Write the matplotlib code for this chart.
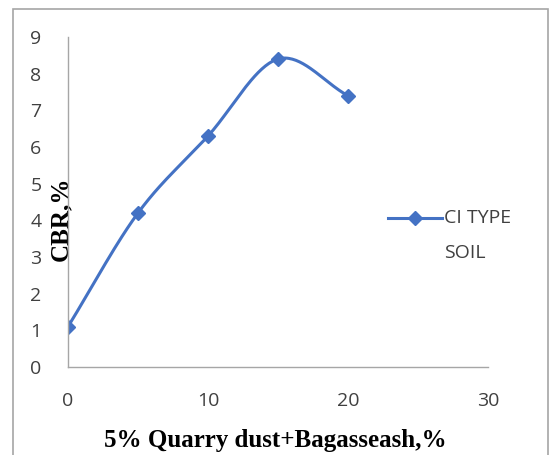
import numpy as np
import matplotlib.pyplot as plt
from matplotlib.lines import Line2D
from matplotlib.patches import Rectangle

# data
additive_pct = [0, 5, 10, 15, 20]
cbr_pct = [1.1, 4.2, 6.3, 8.4, 7.4]
x_ticks = [0, 10, 20, 30]
y_ticks = list(range(0, 10))
series_name = ['CI TYPE', 'SOIL']

blue = '#4472C4'
grey = '#A6A6A6'
txt = '#404040'


def smooth(xs, ys, n=40):
    # Excel style smoothed line (Catmull-Rom through the points)
    xs = np.asarray(xs, float)
    ys = np.asarray(ys, float)
    px = np.concatenate([[2 * xs[0] - xs[1]], xs, [2 * xs[-1] - xs[-2]]])
    py = np.concatenate([[2 * ys[0] - ys[1]], ys, [2 * ys[-1] - ys[-2]]])
    out_x, out_y = [], []
    t = np.linspace(0, 1, n)
    for i in range(1, len(px) - 2):
        for p, out in ((px, out_x), (py, out_y)):
            p0, p1, p2, p3 = p[i - 1], p[i], p[i + 1], p[i + 2]
            out.extend(0.5 * ((2 * p1) + (-p0 + p2) * t
                              + (2 * p0 - 5 * p1 + 4 * p2 - p3) * t ** 2
                              + (-p0 + 3 * p1 - 3 * p2 + p3) * t ** 3))
    return out_x, out_y


W, H = 549, 455
fig = plt.figure(figsize=(W / 100, H / 100), dpi=100)
fig.patches.append(Rectangle((13 / W, -0.1), (548 - 13) / W, 1.1 - 9 / H,
                             transform=fig.transFigure, fill=False,
                             edgecolor=grey, linewidth=1.2))

ax = fig.add_axes([68 / W, 1 - 367 / H, 420 / W, 330 / H])
sx, sy = smooth(additive_pct, cbr_pct)
ax.plot(sx, sy, color=blue, linewidth=2.2, solid_capstyle='round')
ax.plot(additive_pct, cbr_pct, linestyle='none', marker='D', markersize=7,
        color=blue)

ax.set_xlim(0, 30)
ax.set_ylim(0, 9)
ax.set_xticks(x_ticks)
ax.set_yticks(y_ticks)
for s in ['top', 'right']:
    ax.spines[s].set_visible(False)
for s in ['left', 'bottom']:
    ax.spines[s].set_color(grey)
    ax.spines[s].set_linewidth(1.0)
ax.tick_params(length=0, labelsize=14, colors=txt)
ax.tick_params(axis='x', pad=18)
ax.tick_params(axis='y', pad=19)
for lab in ax.get_xticklabels() + ax.get_yticklabels():
    lab.set_fontfamily('Open Sans')

ax.set_xlabel('5% Quarry dust+Bagasseash,%', family='Liberation Serif',
              fontweight='bold', fontsize=18)
ax.xaxis.set_label_coords((275 - 68) / 420, -(440 - 367) / 330)
ax.xaxis.label.set_verticalalignment('center')
ax.set_ylabel('CBR,%', family='Liberation Serif', fontweight='bold',
              fontsize=18)
ax.yaxis.set_label_coords((61 - 68) / 420, (367 - 219) / 330)
ax.yaxis.label.set_verticalalignment('center')

# legend drawn by hand: handle beside first line, second line wrapped below
fig.lines.append(Line2D([388 / W, 442 / W], [1 - 218 / H, 1 - 218 / H],
                        transform=fig.transFigure, color=blue, linewidth=2.2))
fig.lines.append(Line2D([415 / W], [1 - 218 / H], transform=fig.transFigure,
                        color=blue, marker='D', markersize=7))
for k, word in enumerate(series_name):
    fig.text(444 / W, 1 - (218 + 35 * k) / H, word, family='Open Sans',
             fontsize=14, color=txt, va='center', ha='left')

fig.savefig('out.png', dpi=100)
